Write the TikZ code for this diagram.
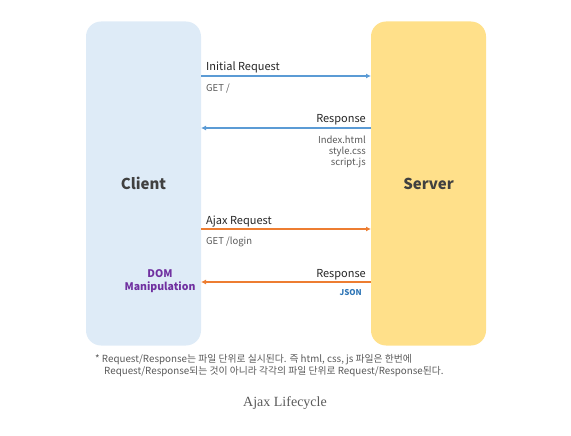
\documentclass[tikz,border=0pt]{standalone}
\usepackage{fontspec}
\setmainfont{Noto Sans CJK KR}
\newfontfamily\capfont{Liberation Serif}
\usetikzlibrary{positioning,arrows.meta}
\definecolor{clientbg}{HTML}{DEEBF7}
\definecolor{serverbg}{HTML}{FFE08A}
\definecolor{reqblue}{HTML}{5B9BD5}
\definecolor{reqorange}{HTML}{ED7D31}
\definecolor{dompurple}{HTML}{7030A0}
\definecolor{jsonblue}{HTML}{2E75B6}
\definecolor{txtgray}{HTML}{595959}

\begin{document}
\begin{tikzpicture}[x=1pt,y=-1pt]
\tikzstyle{side}=[rounded corners=15pt,minimum width=115pt,minimum height=324pt,inner sep=0pt]
\tikzstyle{sidelabel}=[font=\fontsize{15}{15}\selectfont\bfseries,text=black!75]
\tikzstyle{msg}=[font=\fontsize{11}{13}\selectfont,inner sep=0pt,text=black!85]
\tikzstyle{detail}=[font=\fontsize{9.5}{11}\selectfont,inner sep=0pt,text=txtgray]
\tikzstyle{blueline}=[draw=reqblue,line width=1.4pt,-{Latex[length=5pt,width=5pt]}]
\tikzstyle{orangeline}=[draw=reqorange,line width=1.4pt,-{Latex[length=5pt,width=5pt]}]
\useasboundingbox (0,0) rectangle (571,436);
% the two sides
\node [side,fill=clientbg] (client) at (143.5,183.5) {};
\node [side,fill=serverbg] (server) at (428.5,183.5) {};
\node [sidelabel] (clientlabel) at (client) {Client};
\node [sidelabel] (serverlabel) at (server) {Server};
% first round
\coordinate (c1) at (201,76);
\coordinate (s1) at (371,76);
\coordinate (c2) at (201,128);
\coordinate (s2) at (371,128);
\draw [blueline] (c1) -- (s1);
\draw [blueline] (s2) -- (c2);
\node [msg,anchor=base west] (initreq) at (206,71) {Initial Request};
\node [detail,anchor=north west] (getroot) at (206,84) {GET /};
\node [msg,anchor=base east] (resp1) at (366,123) {Response};
\node [detail,anchor=north east,align=right] (files) at (366,136) {Index.html\\style.css\\script.js};
% ajax round
\coordinate (c3) at (201,229);
\coordinate (s3) at (371,229);
\coordinate (c4) at (201,282);
\coordinate (s4) at (371,282);
\draw [orangeline] (c3) -- (s3);
\draw [orangeline] (s4) -- (c4);
\node [msg,anchor=base west] (ajaxreq) at (206,224) {Ajax Request};
\node [detail,anchor=north west] (getlogin) at (206,237) {GET /login};
\node [msg,anchor=base east] (resp2) at (366,277) {Response};
\node [detail,anchor=north east,font=\fontsize{8}{9}\selectfont\bfseries,text=jsonblue] (json) at (362,289) {JSON};
\node [font=\fontsize{10.5}{13.5}\selectfont\bfseries,text=dompurple,align=center,inner sep=0pt] (dom) at (160,281) {DOM\\Manipulation};
% note and caption
\node [font=\fontsize{9.8}{12}\selectfont,text=txtgray,anchor=north west,inner sep=0pt,align=left] (note) at (95,354)
  {* Request/Response는 파일 단위로 실시된다. 즉 html, css, js 파일은 한번에\\
   \hspace*{9pt}Request/Response되는 것이 아니라 각각의 파일 단위로 Request/Response된다.};
\node [font=\capfont\fontsize{14}{16}\selectfont,text=txtgray] (caption) at (285,403) {Ajax Lifecycle};
\end{tikzpicture}
\end{document}
